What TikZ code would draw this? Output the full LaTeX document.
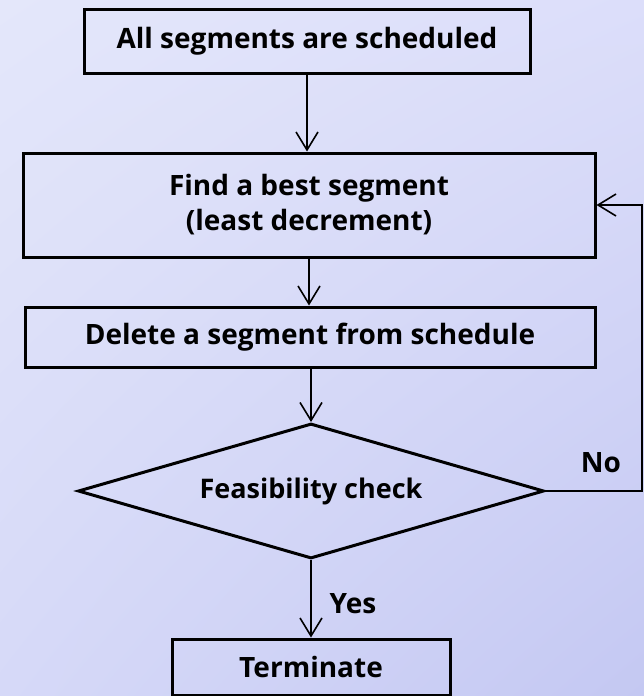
\documentclass[tikz,border=0pt]{standalone}
\usepackage{fontspec}
\setmainfont{Open Sans}
\usetikzlibrary{arrows.meta,shapes.geometric,shadings}
\definecolor{bgtl}{HTML}{E4E7FA}
\definecolor{bgtr}{HTML}{DCDEFA}
\definecolor{bgbl}{HTML}{D6D9F8}
\definecolor{bgbr}{HTML}{C4C8F2}
\tikzset{
  stepbox/.style={draw=black, line width=3pt, rectangle, inner sep=0pt,
    align=center, font=\bfseries\fontsize{28}{35}\selectfont},
  decision/.style={draw=black, line width=3pt, diamond, inner sep=0pt,
    aspect=3.45, font=\bfseries\fontsize{27}{35}\selectfont},
  flow/.style={draw=black, line width=1.6pt,
    -{Straight Barb[length=18pt,width=22pt,line width=1.6pt]}},
  tag/.style={font=\bfseries\fontsize{28}{30}\selectfont}
}
\begin{document}
\begin{tikzpicture}[x=1pt,y=-1pt]
  % soft lavender backdrop
  \shade[upper left=bgtl, upper right=bgtr, lower left=bgbl, lower right=bgbr]
    (0,0) rectangle (644,696);
  \useasboundingbox (0,0) rectangle (644,696);

  % process steps
  \node[stepbox, minimum width=446, minimum height=64] (start) at (307,41)
    {All segments are scheduled};
  \node[stepbox, minimum width=572, minimum height=104] (find) at (309,205)
    {Find a best segment\\(least decrement)};
  \node[stepbox, minimum width=570, minimum height=60] (del) at (310,337)
    {Delete a segment from schedule};
  \node[decision, minimum width=466, minimum height=135] (check) at (311,491)
    {Feasibility check};
  \node[stepbox, minimum width=278, minimum height=56] (stop) at (311,667)
    {Terminate};

  % right-hand return path
  \coordinate (loop) at (642,491);

  % connectors
  \draw[flow] (start.south -| 307,0) -- (find.north -| 307,0);
  \draw[flow] (find.south -| 309,0) -- (del.north -| 309,0);
  \draw[flow] (del.south -| 311,0) -- (check.north);
  \draw[flow] (check.south) -- (stop.north);
  \draw[flow] (check.east) -- (loop) |- (find.east);

  % branch labels
  \node[tag] (no) at (601,463) {No};
  \node[tag] (yes) at (353,604) {Yes};
\end{tikzpicture}
\end{document}
